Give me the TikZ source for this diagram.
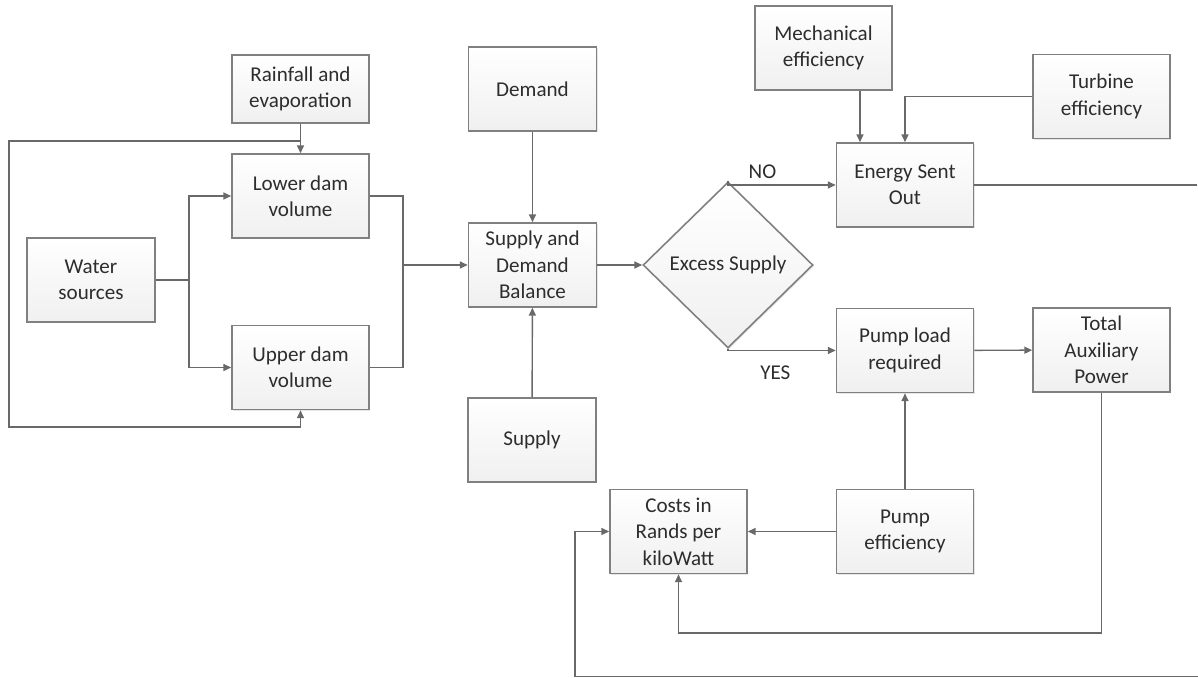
\documentclass[tikz,border=0pt]{standalone}
\usepackage{fontspec}
\setmainfont{Carlito}
\usepackage{tikz}
\usetikzlibrary{shapes.geometric}
\usetikzlibrary{arrows.meta}
\usetikzlibrary{shadows}
\definecolor{trait}{RGB}{105,105,105}
\definecolor{bord}{RGB}{128,128,128}
\definecolor{texte}{RGB}{45,45,45}

\begin{document}
\begin{tikzpicture}[x=0.02cm,y=-0.02cm,
  bloc/.style={draw=bord,line width=0.9pt,top color=white,bottom color=black!6,text=texte,align=center,
    minimum width=2.74cm,minimum height=1.68cm,inner sep=2pt,font=\fontsize{12}{15}\selectfont,
    drop shadow={shadow xshift=0.7pt,shadow yshift=-0.7pt,opacity=0.2}},
  etroit/.style={bloc,minimum width=2.56cm},
  losange/.style={bloc,diamond,minimum width=3.4cm,minimum height=3.32cm,inner sep=0pt},
  lien/.style={draw=trait,line width=0.8pt},
  fleche/.style={lien,-{Triangle[length=4.5pt,width=4pt]}},
  etiq/.style={text=texte,font=\fontsize{12}{15}\selectfont}]
\useasboundingbox (0,0) rectangle (1198,678);

% les blocs
\node[bloc,minimum height=1.36cm] (pluie) at (300.5,89) {Rainfall and\\evaporation};
\node[bloc] (inf) at (300.5,196) {Lower dam\\volume};
\node[etroit] (eau) at (91,280) {Water\\sources};
\node[bloc] (sup) at (300.5,367.5) {Upper dam\\volume};
\node[etroit] (demande) at (532.5,89) {Demand};
\node[etroit] (bilan) at (532.5,265) {Supply and\\Demand\\Balance};
\node[etroit] (offre) at (532,440) {Supply};
\node[losange] (exces) at (728,265) {Excess Supply};
\node[bloc] (meca) at (823.5,48) {Mechanical\\efficiency};
\node[bloc] (turb) at (1101.5,96.5) {Turbine\\efficiency};
\node[bloc] (energie) at (905,185) {Energy Sent\\Out};
\node[bloc] (pompe) at (905,350.5) {Pump load\\required};
\node[bloc] (aux) at (1101.5,350) {Total\\Auxiliary\\Power};
\node[bloc] (couts) at (678.5,531.5) {Costs in\\Rands per\\kiloWatt};
\node[bloc] (rendpompe) at (905,531.5) {Pump\\efficiency};

% points de passage
\coordinate (jn) at (300.5,141);
\coordinate (g1) at (9,141);
\coordinate (g2) at (9,427);
\coordinate (sep) at (189,280);
\coordinate (mg) at (403,265);
\coordinate (m1) at ([xshift=-0.9cm]energie.north);
\coordinate (sortie) at (1197,185);
\coordinate (niv) at (0,633);
\coordinate (retour) at (1198,676.5);
\coordinate (r1) at (575,676.5);

% les liens
\draw[fleche] (pluie) -- (inf);
\draw[fleche] (jn) -- (g1) -- (g2) -| (sup.south);
\draw[lien] (eau) -- (sep);
\draw[fleche] (sep) |- (inf);
\draw[fleche] (sep) |- (sup);
\draw[lien] (inf) -| (mg) |- (sup);
\draw[fleche] (mg) -- (bilan);
\draw[fleche] (demande) -- (bilan);
\draw[fleche] (offre) -- (bilan);
\draw[fleche] (bilan) -- (exces);
\draw[fleche] (exces.north) |- (energie) node[etiq,pos=0.66,above] {NO};
\draw[fleche] (exces.south) |- (pompe) node[etiq,pos=0.72,below=5pt] {YES};
\draw[fleche] (meca.south -| m1) -- (m1);
\draw[fleche] (turb) -| (energie);
\draw[lien] (energie) -- (sortie);
\draw[fleche] (pompe) -- (aux);
\draw[fleche] (rendpompe) -- (pompe);
\draw[fleche] (rendpompe) -- (couts);
\draw[fleche] (aux.south) -- (aux.south |- niv) -| (couts.south);
\draw[fleche] (retour) -- (r1) |- (couts);
\end{tikzpicture}
\end{document}
